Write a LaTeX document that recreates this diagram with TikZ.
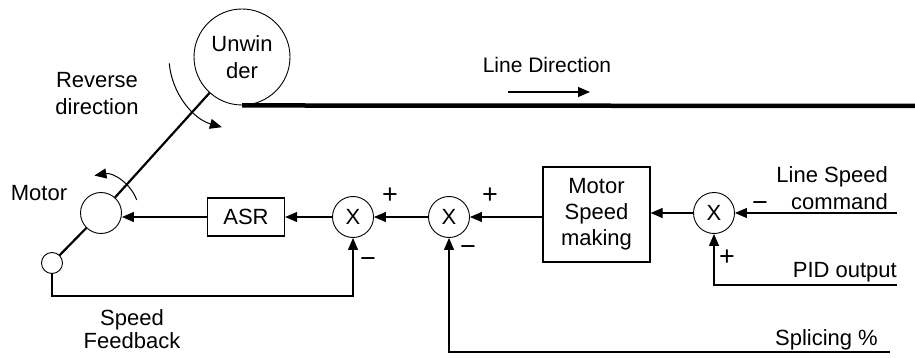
\documentclass[tikz,border=0pt]{standalone}
\usepackage{fontspec}
\setmainfont{Liberation Sans}
\usetikzlibrary{arrows.meta}

\begin{document}
\begin{tikzpicture}[x=1pt, y=-1pt,
  font=\fontsize{22}{27}\selectfont,
  arr/.style={-{Triangle[length=12pt,width=10pt]}, line width=1.2pt},
  sumnode/.style={draw, circle, line width=0.9pt, minimum size=41pt, inner sep=0pt},
  blockbox/.style={draw, line width=1.2pt, inner sep=0pt, align=center},
  lbl/.style={inner sep=0pt, align=center},
  sign/.style={inner sep=0pt, font=\fontsize{27}{27}\selectfont}]
  \useasboundingbox (0,0) rectangle (915,358);
  % Abwickler, Motor, Geber
  \node[draw, circle, line width=0.9pt, minimum size=96pt, inner sep=0pt, align=center] (unw) at (242,57) {Unwin\\der};
  \node[draw, circle, line width=0.9pt, minimum size=41pt, inner sep=0pt] (motor) at (101,213) {};
  \node[draw, circle, line width=0.9pt, minimum size=21pt, inner sep=0pt] (enc) at (52,263) {};
  \draw[line width=2.2pt] (unw) -- (motor);
  \draw[line width=2.2pt] (motor) -- (enc);
  \coordinate (webend) at (915,106);
  \draw[line width=4.5pt] (unw.south) -- (webend);
  % Drehrichtungen
  \draw[arr, line width=1pt] (unw.center) ++(175:73) arc[start angle=175, end angle=106, radius=73];
  \draw[arr, line width=1pt] (motor.center) ++(-20:38) arc[start angle=-20, end angle=-100, radius=38];
  \node[lbl] (revlbl) at (97,94) {Reverse\\direction};
  \node[lbl] (motorlbl) at (39,193) {Motor};
  \node[lbl, font=\fontsize{21}{25}\selectfont] (linelbl) at (547,64.5) {Line Direction};
  \coordinate (ldA) at (508,92);
  \coordinate (ldB) at (590,92);
  \draw[arr] (ldA) -- (ldB);
  % Regelkreis
  \node[blockbox, minimum width=77pt, minimum height=38pt] (asr) at (246,217) {ASR};
  \node[sumnode] (sumA) at (353,217) {X};
  \node[sumnode] (sumB) at (449,217) {X};
  \node[blockbox, minimum width=107pt, minimum height=95pt, font=\fontsize{22}{26}\selectfont] (msm) at (596.5,214.5) {Motor\\Speed\\making};
  \node[sumnode] (sumC) at (714,213) {X};
  \draw[arr] (asr.west) -- (asr.west -| motor.east);
  \draw[arr] (sumA.west) -- (asr.east);
  \draw[arr] (sumB.west) -- (sumA.east);
  \draw[arr] (msm.west |- sumB) -- (sumB.east);
  \draw[arr] (sumC.west) -- (sumC.west -| msm.east);
  % Eingänge
  \coordinate (lsc) at (897,213);
  \coordinate (pid) at (897,285);
  \coordinate (spl) at (890,352);
  \coordinate (fb) at (353,296);
  \draw[arr] (lsc) -- (sumC.east);
  \draw[arr] (pid) -| (sumC.south);
  \draw[arr] (spl) -| (sumB.south);
  \draw[arr] (enc.south) |- (fb) -- (sumA.south);
  \node[lbl, anchor=east, align=right] (lsclbl) at (888,188.5) {Line Speed\\command};
  \node[lbl, anchor=base east] (pidlbl) at (897,277) {PID output};
  \node[lbl, anchor=base east] (spllbl) at (878,345) {Splicing \%};
  \node[lbl, font=\fontsize{22}{23}\selectfont] (fblbl) at (132,329) {Speed\\Feedback};
  % Vorzeichen
  \node[sign] (pA) at (390,196) {+};
  \node[sign] (mA) at (368,263) {−};
  \node[sign] (pB) at (490,196) {+};
  \node[sign] (mB) at (468,251) {−};
  \node[sign] (mC) at (760,207) {−};
  \node[sign] (pC) at (727,258) {+};
\end{tikzpicture}
\end{document}
